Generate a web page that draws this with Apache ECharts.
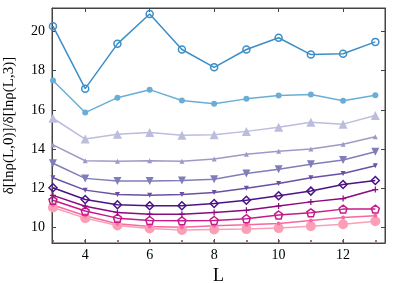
<!DOCTYPE html>
<html><head><meta charset="utf-8">
<script src="https://cdn.jsdelivr.net/npm/echarts@6/dist/echarts.min.js"></script>
<style>html,body{margin:0;padding:0;background:#fff}#c{width:400px;height:283px}</style>
</head><body><div id="c"></div>
<script>
const L = [3,4,5,6,7,8,9,10,11,12,13];
const xTicks = [4,6,8,10,12];
const xMinorTicks = [3,4,5,6,7,8,9,10,11,12,13];
const yTicks = [10,12,14,16,18,20];
const s1 = [20.27,17.08,19.37,20.89,19.08,18.17,19.08,19.68,18.82,18.86,19.47];
const s2 = [17.50,15.86,16.62,17.03,16.48,16.31,16.56,16.73,16.78,16.46,16.75];
const s3 = [15.57,14.51,14.75,14.84,14.70,14.73,14.90,15.11,15.37,15.27,15.71];
const s4 = [14.21,13.40,13.37,13.40,13.37,13.49,13.73,13.88,14.00,14.24,14.63];
const s5 = [13.27,12.50,12.36,12.36,12.39,12.46,12.75,12.97,13.22,13.44,13.86];
const s6 = [12.53,11.90,11.68,11.64,11.68,11.78,12.00,12.24,12.53,12.75,13.14];
const s7 = [12.02,11.42,11.15,11.10,11.10,11.22,11.38,11.61,11.85,12.19,12.39];
const s8 = [11.63,11.08,10.76,10.67,10.67,10.76,10.87,11.09,11.30,11.47,11.93];
const s9 = [11.38,10.83,10.47,10.35,10.33,10.35,10.44,10.63,10.74,10.93,10.93];
const s10 = [11.14,10.59,10.18,10.04,10.01,10.08,10.13,10.20,10.35,10.50,10.59];
const s11 = [11.01,10.47,10.09,9.94,9.87,9.89,9.91,9.96,10.06,10.16,10.31];

const seriesDefs = [
  {d:s1, c:'#3d8ec6', sym:'circle', size:7, hollow:true},
  {d:s2, c:'#6aaed6', sym:'circle', size:6},
  {d:s3, c:'#bcbddc', sym:'triangle', size:9},
  {d:s4, c:'#9e9ac8', sym:'triangle', size:5},
  {d:s5, c:'#807dba', sym:'path://M0,0 L10,0 L5,9 Z', size:8},
  {d:s6, c:'#6a51a3', sym:'path://M0,0 L10,0 L5,9 Z', size:5},
  {d:s7, c:'#4a1486', sym:'diamond', size:8, hollow:true},
  {d:s8, c:'#8b0a7f', sym:'path://M4,0 L6,0 L6,4 L10,4 L10,6 L6,6 L6,10 L4,10 L4,6 L0,6 L0,4 L4,4 Z', size:6},
  {d:s9, c:'#c51b8a', sym:'path://M5,0 L10,3.8 L8.1,10 L1.9,10 L0,3.8 Z', size:8, hollow:true},
  {d:s10, c:'#f768a1', sym:'circle', size:4},
  {d:s11, c:'#fa9fb5', sym:'circle', size:10}
];

const chart = echarts.init(document.getElementById('c'), null, {renderer:'canvas'});
const font = 'Liberation Serif';
const axCommon = {
  axisLine:{show:true, lineStyle:{color:'#444', width:1}},
  splitLine:{show:false}
};
chart.setOption({
  animation:false,
  backgroundColor:'#fff',
  grid:{left:52, right:15, top:8, bottom:40, show:true, borderColor:'#444', borderWidth:1,
        containLabel:false, outerBoundsMode:'none'},
  xAxis:[
    Object.assign({type:'value', min:2.97, max:13.3, position:'bottom',
      name:'L', nameLocation:'middle', nameGap:15,
      nameTextStyle:{fontFamily:font, fontSize:18, color:'#000', verticalAlign:'top'},
      axisTick:{inside:true, length:4, customValues:xTicks, lineStyle:{color:'#444'}},
      axisLabel:{customValues:xTicks, fontFamily:font, fontSize:14, color:'#000', margin:5}
    }, axCommon),
    Object.assign({type:'value', min:2.97, max:13.3, position:'top',
      axisTick:{inside:true, length:4, customValues:xTicks, lineStyle:{color:'#444'}},
      axisLabel:{show:false}
    }, axCommon),
    {type:'value', min:2.97, max:13.3, position:'bottom', offset:-1,
      axisLine:{show:false}, splitLine:{show:false},
      axisTick:{show:true, inside:true, length:2, customValues:xMinorTicks, lineStyle:{color:'#8a3a86', width:1.5}},
      axisLabel:{show:false}
    }
  ],
  yAxis:[
    Object.assign({type:'value', min:9.2, max:21.2, position:'left',
      name:'δ[lnρ(L,0)]/δ[lnρ(L,3)]', nameLocation:'middle', nameGap:35,
      nameTextStyle:{fontFamily:font, fontSize:15, color:'#000'},
      axisTick:{inside:true, length:4, customValues:yTicks, lineStyle:{color:'#444'}},
      axisLabel:{customValues:yTicks, fontFamily:font, fontSize:14, color:'#000', margin:7}
    }, axCommon),
    Object.assign({type:'value', min:9.2, max:21.2, position:'right',
      axisTick:{inside:true, length:4, customValues:yTicks, lineStyle:{color:'#444'}},
      axisLabel:{show:false}
    }, axCommon)
  ],
  series: seriesDefs.map(s => ({
    type:'line',
    xAxisIndex:0, yAxisIndex:0,
    data: L.map((x,i)=>[x, s.d[i]]),
    symbol: s.sym,
    symbolSize: s.size,
    showAllSymbol:true,
    lineStyle:{color:s.c, width:1.5},
    itemStyle: s.hollow ? {color:'transparent', borderColor:s.c, borderWidth:1.5} : {color:s.c, borderWidth:0},
    z: 2
  })).reverse()
});
</script></body></html>
